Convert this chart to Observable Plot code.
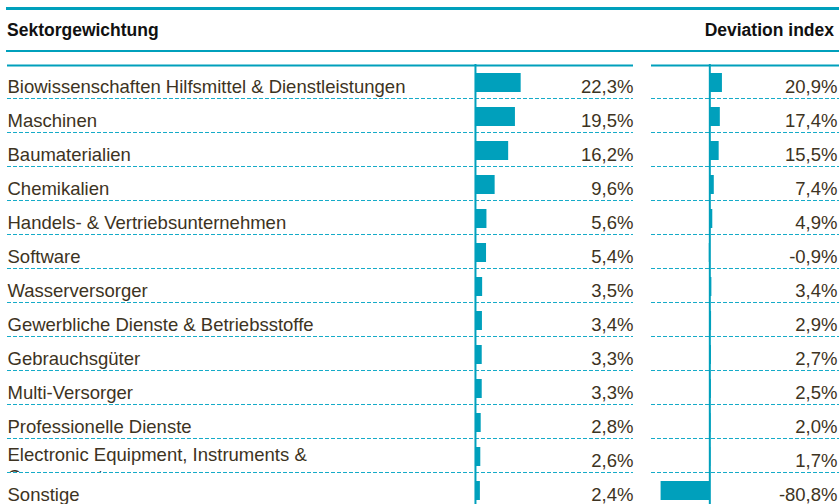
<!DOCTYPE html>
<html><head><meta charset="utf-8">
<script src="https://cdn.jsdelivr.net/npm/d3@7"></script>
<script src="https://cdn.jsdelivr.net/npm/@observablehq/plot@0.6"></script>
<style>
body{margin:0;background:#fff;width:839px;height:504px;overflow:hidden;position:relative;font-family:"Liberation Sans",Arial,sans-serif;}
.hline{position:absolute;left:6px;right:0;height:2.5px;background:#00a0bc;}
.head{position:absolute;top:20px;line-height:20px;font-size:17.5px;font-weight:bold;color:#111;white-space:nowrap;}
#left{position:absolute;left:0;top:52px;}
#right{position:absolute;left:640px;top:52px;}
</style></head><body>
<div class="hline" style="top:7px"></div>
<div class="head" style="left:7px">Sektorgewichtung</div>
<div class="head" style="right:5px">Deviation index</div>
<div class="hline" style="top:49.5px"></div>
<div id="left"></div><div id="right"></div>
<script>
const categories = [
  "Biowissenschaften Hilfsmittel & Dienstleistungen",
  "Maschinen",
  "Baumaterialien",
  "Chemikalien",
  "Handels- & Vertriebsunternehmen",
  "Software",
  "Wasserversorger",
  "Gewerbliche Dienste & Betriebsstoffe",
  "Gebrauchsgüter",
  "Multi-Versorger",
  "Professionelle Dienste",
  "Electronic Equipment, Instruments &\nComponents",
  "Sonstige"
];
const weights = [22.3, 19.5, 16.2, 9.6, 5.6, 5.4, 3.5, 3.4, 3.3, 3.3, 2.8, 2.6, 2.4];
const deviations = [20.9, 17.4, 15.5, 7.4, 4.9, -0.9, 3.4, 2.9, 2.7, 2.5, 2.0, 1.7, -80.8];

const rows = categories.map((name, i) => ({name, i, weight: weights[i], deviation: deviations[i]}));
const singleRows = rows.filter(d => !d.name.includes("\n"));
const multiRows = rows.filter(d => d.name.includes("\n"));
const N = categories.length;
const teal = "#00a0bc";
const dash = "#16abc8";
const ink = "#3d3322";
const fontFamily = '"Liberation Sans", Arial, sans-serif';
const fmt = v => v.toFixed(1).replace(".", ",") + "%";

const common = {
  height: 454, marginTop: 12, marginBottom: 0,
  y: {domain: [0, N], reverse: true, axis: null},
  style: {fontFamily, fontSize: "18.5px", color: ink, background: "white", overflow: "visible"}
};

const left = Plot.plot({
  ...common,
  width: 640, marginLeft: 7, marginRight: 7,
  x: {domain: [-228.3, 77.1], axis: null},
  marks: [
    Plot.ruleY(rows, {y: d => d.i + 1, stroke: dash, strokeWidth: 1, strokeDasharray: "4,2"}),
    Plot.ruleY([0], {stroke: teal, strokeWidth: 2, dy: 1}),
    Plot.rect(rows, {x1: () => 0, x2: "weight", y1: "i", y2: d => d.i + 1, insetTop: 9, insetBottom: 6, fill: teal}),
    Plot.ruleX([0], {y1: 0, y2: N, stroke: teal, strokeWidth: 2}),
    Plot.text(singleRows, {y: d => d.i + 0.5, text: "name", frameAnchor: "left", textAnchor: "start", lineAnchor: "middle", dy: 5.5, fill: ink}),
    Plot.text(multiRows, {y: d => d.i + 0.5, text: "name", frameAnchor: "left", textAnchor: "start", lineAnchor: "middle", lineHeight: 1.22, dy: 9.4, fill: ink}),
    Plot.text(rows, {y: d => d.i + 0.5, text: d => fmt(d.weight), frameAnchor: "right", textAnchor: "end", lineAnchor: "middle", dy: 5.5, fill: ink})
  ]
});

const right = Plot.plot({
  ...common,
  width: 199, marginLeft: 11, marginRight: 0,
  x: {domain: [-96.7, 215], axis: null},
  marks: [
    Plot.ruleY(rows, {y: d => d.i + 1, stroke: dash, strokeWidth: 1, strokeDasharray: "4,2"}),
    Plot.ruleY([0], {stroke: teal, strokeWidth: 2, dy: 1}),
    Plot.rect(rows, {x1: () => 0, x2: "deviation", y1: "i", y2: d => d.i + 1, insetTop: 9, insetBottom: 6, fill: teal}),
    Plot.ruleX([0], {y1: 0, y2: N, stroke: teal, strokeWidth: 2}),
    Plot.text(rows, {y: d => d.i + 0.5, text: d => fmt(d.deviation), frameAnchor: "right", textAnchor: "end", lineAnchor: "middle", dy: 5.5, dx: -2, fill: ink})
  ]
});

document.getElementById("left").append(left);
document.getElementById("right").append(right);

// clip the wrapped label to its row, as in the original table cell
const yS = left.scale("y");
const idx = categories.findIndex(c => c.includes("\n"));
const textEl = [...left.querySelectorAll("text")].find(t => t.textContent.includes("Components"));
if (textEl && idx >= 0) {
  const ctm = textEl.getCTM();
  const top = yS.apply(idx), bot = yS.apply(idx + 1);
  const ns = "http://www.w3.org/2000/svg";
  const cp = document.createElementNS(ns, "clipPath");
  cp.setAttribute("id", "clipLong");
  const r = document.createElementNS(ns, "rect");
  r.setAttribute("x", -2000);
  r.setAttribute("width", 5000);
  r.setAttribute("y", (top - ctm.f) / ctm.d);
  r.setAttribute("height", (bot - top) / ctm.d);
  cp.append(r);
  left.append(cp);
  textEl.setAttribute("clip-path", "url(#clipLong)");
}
</script>
</body></html>
